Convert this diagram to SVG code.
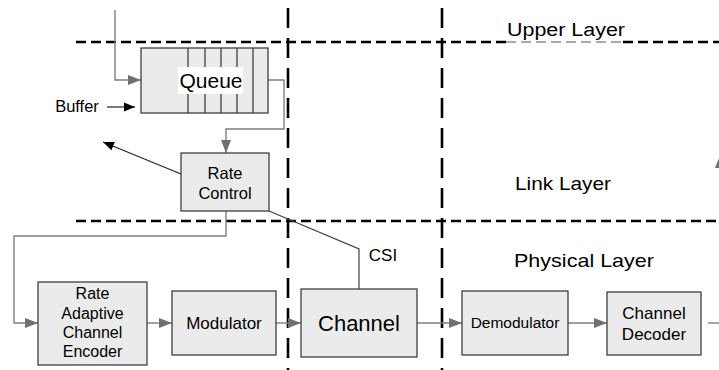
<svg xmlns="http://www.w3.org/2000/svg" width="719" height="370" viewBox="0 0 719 370">
  <style>
    .box { fill: #ebebeb; stroke: #404040; stroke-width: 1.3; }
    .wire { fill: none; stroke: #7f7f7f; stroke-width: 1.4; }
    .thin { fill: none; stroke: #222; stroke-width: 1.2; }
    .hdash { fill: none; stroke: #000; stroke-width: 2.6; stroke-dasharray: 10 5; }
    .vdash { fill: none; stroke: #000; stroke-width: 2.6; stroke-dasharray: 20 10; }
    .div { stroke: #404040; stroke-width: 1.3; }
    text { font-family: "Liberation Sans", Arial, sans-serif; fill: #000; text-anchor: middle; }
  </style>
  <defs>
    <marker id="gArrow" markerWidth="14" markerHeight="12" refX="13" refY="6" orient="auto" markerUnits="userSpaceOnUse">
      <path d="M0,1 L13,6 L0,11 z" fill="#707070"/>
    </marker>
    <marker id="bArrow" markerWidth="12" markerHeight="10" refX="11" refY="5" orient="auto" markerUnits="userSpaceOnUse">
      <path d="M0,0.5 L11,5 L0,9.5 z" fill="#000"/>
    </marker>
  </defs>

  <!-- layer boundaries -->
  <g id="layer-boundaries">
    <line class="hdash" x1="76" y1="42" x2="506" y2="42"/>
    <line x1="506" y1="42" x2="623" y2="42" stroke="#555" stroke-width="1" stroke-dasharray="10 5"/>
    <line class="hdash" x1="623" y1="42" x2="719" y2="42"/>
    <line class="hdash" x1="76" y1="221" x2="719" y2="221"/>
    <line class="vdash" x1="288" y1="8" x2="288" y2="370"/>
    <line class="vdash" x1="442" y1="8" x2="442" y2="370"/>
  </g>

  <!-- layer labels -->
  <g id="labels">
    <text x="566" y="36" font-size="18" textLength="118" lengthAdjust="spacingAndGlyphs">Upper Layer</text>
    <text x="563" y="190" font-size="19" textLength="96" lengthAdjust="spacingAndGlyphs">Link Layer</text>
    <text x="584" y="267" font-size="19" textLength="140" lengthAdjust="spacingAndGlyphs">Physical Layer</text>
    <text x="383" y="261" font-size="17">CSI</text>
    <text x="77" y="112" font-size="16.5">Buffer</text>
  </g>

  <!-- connectors -->
  <g id="connectors">
    <path class="wire" d="M115,10 V80 H141" marker-end="url(#gArrow)"/>
    <line class="thin" x1="107" y1="107" x2="135" y2="107" marker-end="url(#bArrow)"/>
    <path class="wire" d="M268,80 H284 V129 H226 V153" marker-end="url(#gArrow)"/>
    <line class="thin" x1="181" y1="174" x2="103" y2="142" marker-end="url(#bArrow)"/>
    <path class="wire" d="M226,211 V236 H14 V323 H38" marker-end="url(#gArrow)"/>
    <path d="M269,211 L359,249 V289" fill="none" stroke="#404040" stroke-width="1.2"/>
    <line class="wire" x1="147" y1="323" x2="172" y2="323" marker-end="url(#gArrow)"/>
    <line class="wire" x1="276" y1="323" x2="301" y2="323" marker-end="url(#gArrow)"/>
    <line class="wire" x1="417" y1="323" x2="462" y2="323" marker-end="url(#gArrow)"/>
    <line class="wire" x1="568" y1="323" x2="607" y2="323" marker-end="url(#gArrow)"/>
    <line class="wire" x1="708" y1="323" x2="719" y2="323"/>
    <path d="M715,168 L719,158 L719,168 z" fill="#707070"/>
  </g>

  <!-- queue -->
  <g id="queue">
    <rect class="box" x="141" y="48" width="127" height="65"/>
    <line class="div" x1="188" y1="48" x2="188" y2="113"/>
    <line class="div" x1="205" y1="48" x2="205" y2="113"/>
    <line class="div" x1="221" y1="48" x2="221" y2="113"/>
    <line class="div" x1="237" y1="48" x2="237" y2="113"/>
    <line class="div" x1="253" y1="48" x2="253" y2="113"/>
    <rect x="178" y="67" width="65" height="27" fill="#fff"/>
    <text x="211" y="88" font-size="21">Queue</text>
  </g>

  <g id="rate-control">
    <rect class="box" x="181" y="153" width="88" height="58"/>
    <text x="225" y="179" font-size="16.5">Rate</text>
    <text x="225" y="199" font-size="16.5">Control</text>
  </g>

  <g id="encoder">
    <rect class="box" x="38" y="282" width="109" height="83"/>
    <text x="92.5" y="299" font-size="16">Rate</text>
    <text x="92.5" y="319" font-size="16">Adaptive</text>
    <text x="92.5" y="338" font-size="16">Channel</text>
    <text x="92.5" y="357" font-size="16">Encoder</text>
  </g>

  <g id="modulator">
    <rect class="box" x="172" y="291" width="104" height="64"/>
    <text x="224" y="329" font-size="17">Modulator</text>
  </g>

  <g id="channel">
    <rect class="box" x="301" y="289" width="116" height="68"/>
    <text x="359" y="331" font-size="22">Channel</text>
  </g>

  <g id="demodulator">
    <rect class="box" x="462" y="291" width="106" height="64"/>
    <text x="515" y="328" font-size="15.5">Demodulator</text>
  </g>

  <g id="decoder">
    <rect class="box" x="607" y="292" width="94" height="63"/>
    <text x="654" y="319" font-size="17">Channel</text>
    <text x="654" y="340" font-size="17">Decoder</text>
  </g>
</svg>
